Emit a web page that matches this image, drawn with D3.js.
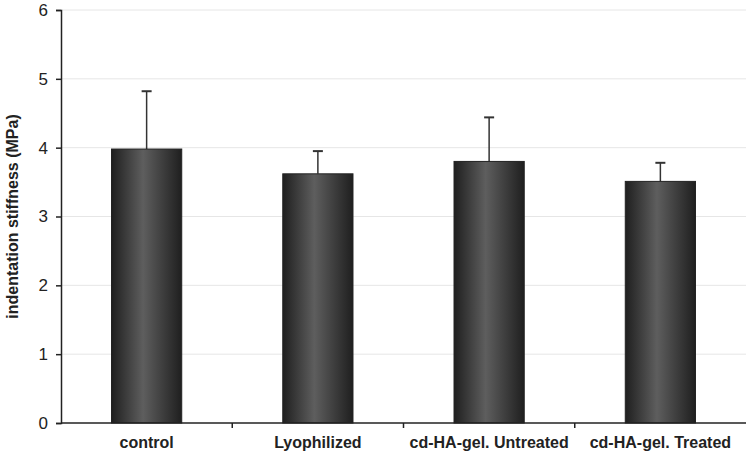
<!DOCTYPE html>
<html><head><meta charset="utf-8">
<script src="https://cdn.jsdelivr.net/npm/d3@7"></script>
<style>body{margin:0;background:#fff}svg{display:block}</style>
</head><body>
<svg id="c" width="750" height="457"></svg>
<script>
const categories = ["control", "Lyophilized", "cd-HA-gel. Untreated", "cd-HA-gel. Treated"];
const means = [3.98, 3.62, 3.80, 3.51];
const errors = [0.84, 0.33, 0.64, 0.27];
const yTicks = [0, 1, 2, 3, 4, 5, 6];
const yLabel = "indentation stiffness (MPa)";

const svg = d3.select("#c");
const m = {l: 61, r: 4, t: 10, b: 34};
const W = 750, H = 457;
const x = d3.scaleBand().domain(categories).range([m.l, W - m.r]).paddingInner(0.59).paddingOuter(0.295);
const y = d3.scaleLinear().domain([0, 6]).range([H - m.b, m.t]);

const defs = svg.append("defs");
const g = defs.append("linearGradient").attr("id", "bg").attr("x1", "0").attr("x2", "1").attr("y1", "0").attr("y2", "0");
g.append("stop").attr("offset", "0").attr("stop-color", "#1f1f1f");
g.append("stop").attr("offset", "0.45").attr("stop-color", "#5e5e5e");
g.append("stop").attr("offset", "1").attr("stop-color", "#1f1f1f");

// grid
svg.append("g").selectAll("line").data(yTicks.filter(d => d > 0)).join("line")
  .attr("x1", m.l).attr("x2", W - m.r)
  .attr("y1", d => y(d)).attr("y2", d => y(d))
  .attr("stroke", "#e6e6e6").attr("stroke-width", 1);

// error bars
const eb = svg.append("g").attr("stroke", "#333").attr("stroke-width", 1.5);
categories.forEach((c, i) => {
  const cx = x(c) + x.bandwidth() / 2;
  eb.append("line").attr("x1", cx).attr("x2", cx).attr("y1", y(means[i])).attr("y2", y(means[i] + errors[i]));
  eb.append("line").attr("x1", cx - 5).attr("x2", cx + 5).attr("y1", y(means[i] + errors[i])).attr("y2", y(means[i] + errors[i])).attr("stroke-width", 2);
});

// bars
svg.append("g").selectAll("rect").data(categories).join("rect")
  .attr("x", d => x(d)).attr("width", x.bandwidth())
  .attr("y", (d, i) => y(means[i])).attr("height", (d, i) => y(0) - y(means[i]))
  .attr("fill", "url(#bg)").attr("stroke", "#222").attr("stroke-width", 1);

// y axis
const ya = svg.append("g").attr("transform", `translate(${m.l},0)`)
  .call(d3.axisLeft(y).tickValues(yTicks).tickSize(5).tickPadding(8).tickFormat(d3.format("d")));
ya.select(".domain").attr("stroke", "#222").attr("stroke-width", 1.5);
ya.selectAll(".tick line").attr("stroke", "#222").attr("stroke-width", 1.5);
ya.selectAll("text").attr("font-family", "Liberation Sans, Arial, sans-serif").attr("font-size", 17).attr("fill", "#222");

// x axis
const xa = svg.append("g").attr("transform", `translate(0,${y(0)})`);
xa.append("line").attr("x1", m.l).attr("x2", W - m.r).attr("stroke", "#222").attr("stroke-width", 1.5);
const bounds = categories.slice(1).map(c => x(c) - x.step() * x.paddingInner() / 2);
xa.selectAll(".bt").data(bounds).join("line").attr("class", "bt")
  .attr("x1", d => d).attr("x2", d => d).attr("y1", 0).attr("y2", 5)
  .attr("stroke", "#222").attr("stroke-width", 1.5);
xa.selectAll("text").data(categories).join("text")
  .attr("x", d => x(d) + x.bandwidth() / 2).attr("y", 25)
  .attr("text-anchor", "middle")
  .attr("font-family", "Liberation Sans, Arial, sans-serif").attr("font-weight", "bold").attr("font-size", 16).attr("fill", "#222")
  .text(d => d);

// y label
svg.append("text").attr("transform", `translate(18,${(y(0) + y(6)) / 2}) rotate(-90)`)
  .attr("text-anchor", "middle")
  .attr("font-family", "Liberation Sans, Arial, sans-serif").attr("font-weight", "bold").attr("font-size", 16).attr("fill", "#222")
  .text(yLabel);
</script>
</body></html>
